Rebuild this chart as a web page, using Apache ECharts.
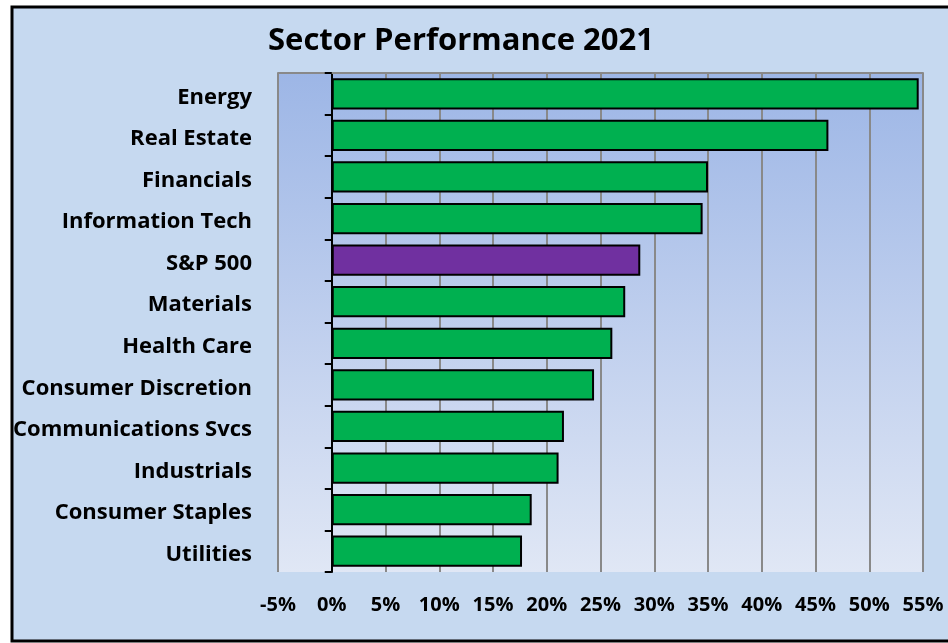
<!DOCTYPE html>
<html><head><meta charset="utf-8">
<script src="https://cdn.jsdelivr.net/npm/echarts@6/dist/echarts.min.js"></script>
<style>html,body{margin:0;padding:0;background:#fff}#c{width:948px;height:643px}</style>
</head><body><div id="c"></div>
<script>
const categories = ["Energy","Real Estate","Financials","Information Tech","S&P 500","Materials","Health Care","Consumer Discretion","Communications Svcs","Industrials","Consumer Staples","Utilities"];
const values = [54.6, 46.2, 35.0, 34.5, 28.7, 27.3, 26.1, 24.4, 21.6, 21.1, 18.6, 17.7];
const highlight = "S&P 500";
const xMin = -5, xMax = 55, xStep = 5;
const FONT = "'Open Sans', sans-serif";

const chart = echarts.init(document.getElementById('c'), null, {renderer: 'canvas'});
chart.setOption({
  backgroundColor: '#ffffff',
  animation: false,
  graphic: [{
    type: 'rect', z: -10, silent: true,
    shape: {x: 12, y: 7, width: 960, height: 634},
    style: {fill: '#c6d9f0', stroke: '#000', lineWidth: 3}
  }],
  title: {
    text: 'Sector Performance 2021', left: 263, top: 21,
    textStyle: {fontFamily: FONT, fontWeight: 'bold', fontSize: 31, color: '#000'}
  },
  grid: {
    left: 278, right: 25, top: 73, bottom: 71, show: true, borderWidth: 0,
    backgroundColor: new echarts.graphic.LinearGradient(0, 0, 0, 1, [
      {offset: 0, color: '#9db6e6'}, {offset: 1, color: '#e0e7f5'}
    ])
  },
  xAxis: [{
    type: 'value', min: xMin, max: xMax, interval: xStep, position: 'bottom',
    axisLine: {show: false}, axisTick: {show: false},
    splitLine: {show: true, lineStyle: {color: '#898989', width: 2}},
    axisLabel: {formatter: v => v + '%', fontFamily: FONT, fontWeight: 'bold', fontSize: 20, color: '#000', margin: 23}
  }, {
    type: 'value', min: xMin, max: xMax, interval: xStep, position: 'top',
    axisLine: {show: true, lineStyle: {color: '#898989', width: 2}},
    axisTick: {show: false}, axisLabel: {show: false}, splitLine: {show: false}
  }],
  yAxis: {
    type: 'category', data: categories, inverse: true,
    axisLine: {show: true, onZero: true, lineStyle: {color: '#000', width: 2}},
    axisTick: {show: true, length: 7, lineStyle: {color: '#000', width: 2}},
    axisLabel: {
      margin: 26,
      formatter: v => '{l|' + v + '}',
      rich: {l: {fontFamily: FONT, fontWeight: 'bold', fontSize: 22, color: '#000', padding: [7, 0, 0, 0]}}
    }
  },
  series: [{
    type: 'bar', xAxisIndex: 0,
    data: values.map((v, i) => ({
      value: v,
      itemStyle: {color: categories[i] === highlight ? '#7030a0' : '#00b050'}
    })),
    barCategoryGap: '25%',
    itemStyle: {borderColor: '#000', borderWidth: 2}
  }]
});
</script></body></html>
